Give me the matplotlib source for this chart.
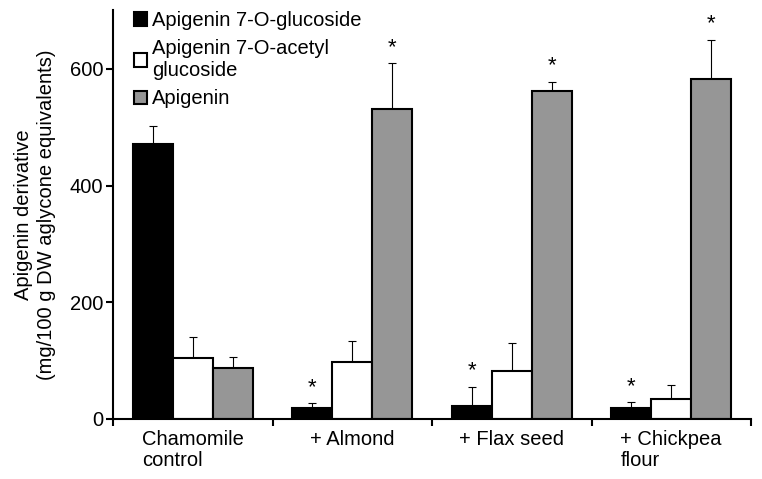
import matplotlib
matplotlib.use("Agg")
import matplotlib.pyplot as plt
import numpy as np

plt.rcParams['font.family'] = ['Liberation Sans', 'DejaVu Sans']

categories = ["Chamomile\ncontrol", "+ Almond", "+ Flax seed", "+ Chickpea\nflour"]
series_names = ["Apigenin 7-O-glucoside", "Apigenin 7-O-acetyl\nglucoside", "Apigenin"]
glucoside = [472, 18, 22, 19]
glucoside_err = [31, 9, 33, 10]
acetyl = [105, 98, 83, 35]
acetyl_err = [36, 36, 48, 24]
apigenin = [87, 532, 562, 583]
apigenin_err = [19, 78, 16, 67]
glucoside_sig = [False, True, True, True]
acetyl_sig = [False, False, False, False]
apigenin_sig = [False, True, True, True]
yticks = [0, 200, 400, 600]

colors = ["#000000", "#ffffff", "#969696"]
FS = 14.5

fig = plt.figure(figsize=(7.62, 4.79), dpi=100)
ax = fig.add_axes([113 / 762, 60 / 479, 638 / 762, 409 / 479])

x = np.arange(len(categories))
w = 0.25
vals = [glucoside, acetyl, apigenin]
errs = [glucoside_err, acetyl_err, apigenin_err]
sigs = [glucoside_sig, acetyl_sig, apigenin_sig]
for i, (v, e, s, c, n) in enumerate(zip(vals, errs, sigs, colors, series_names)):
    pos = x + (i - 1) * w
    ax.bar(pos, v, width=w, color=c, edgecolor="black", linewidth=1.5, label=n, zorder=2)
    ax.errorbar(pos, v, yerr=[np.zeros(len(v)), e], fmt="none", ecolor="black",
                elinewidth=0.8, capsize=2.6, capthick=0.8, zorder=1)
    for p, vv, ee, ss in zip(pos, v, e, s):
        if ss:
            ax.text(p, vv + ee + 9, "*", ha="center", va="bottom", fontsize=16)

ax.set_xlim(-0.5, len(categories) - 0.5)
ax.set_ylim(0, 701)
ax.set_yticks(yticks)
ax.set_yticklabels([str(t) for t in yticks], fontsize=FS)
ax.set_xticks(np.arange(len(categories) + 1) - 0.5)
ax.set_xticklabels([])
ax.set_xticks(x, minor=True)
ax.set_xticklabels(categories, minor=True, fontsize=FS)
ax.tick_params(axis="x", which="minor", length=0, pad=8)
ax.tick_params(axis="x", which="major", length=5, width=1.5, direction="out")
ax.tick_params(axis="y", length=5, width=1.5, direction="out", pad=2)
ax.spines["top"].set_visible(False)
ax.spines["right"].set_visible(False)
ax.spines["left"].set_linewidth(1.5)
ax.spines["bottom"].set_linewidth(1.5)

for lbl in ax.get_xticklabels(minor=True):
    lbl.set_ha("center")
    lbl.set_multialignment("left")
    lbl.set_linespacing(1.12)

ax.set_ylabel("Apigenin derivative\n(mg/100 g DW aglycone equivalents)", fontsize=FS,
              labelpad=10, linespacing=1.25)

leg = ax.legend(loc="upper left", bbox_to_anchor=(134 / 762, 468 / 479),
                bbox_transform=fig.transFigure, frameon=False, fontsize=FS,
                handlelength=0.65, handleheight=0.65, handletextpad=0.25,
                labelspacing=0.45, borderaxespad=0, borderpad=0)
for t in leg.get_texts():
    t.set_linespacing(1.22)

fig.savefig("out.png", dpi=100)
